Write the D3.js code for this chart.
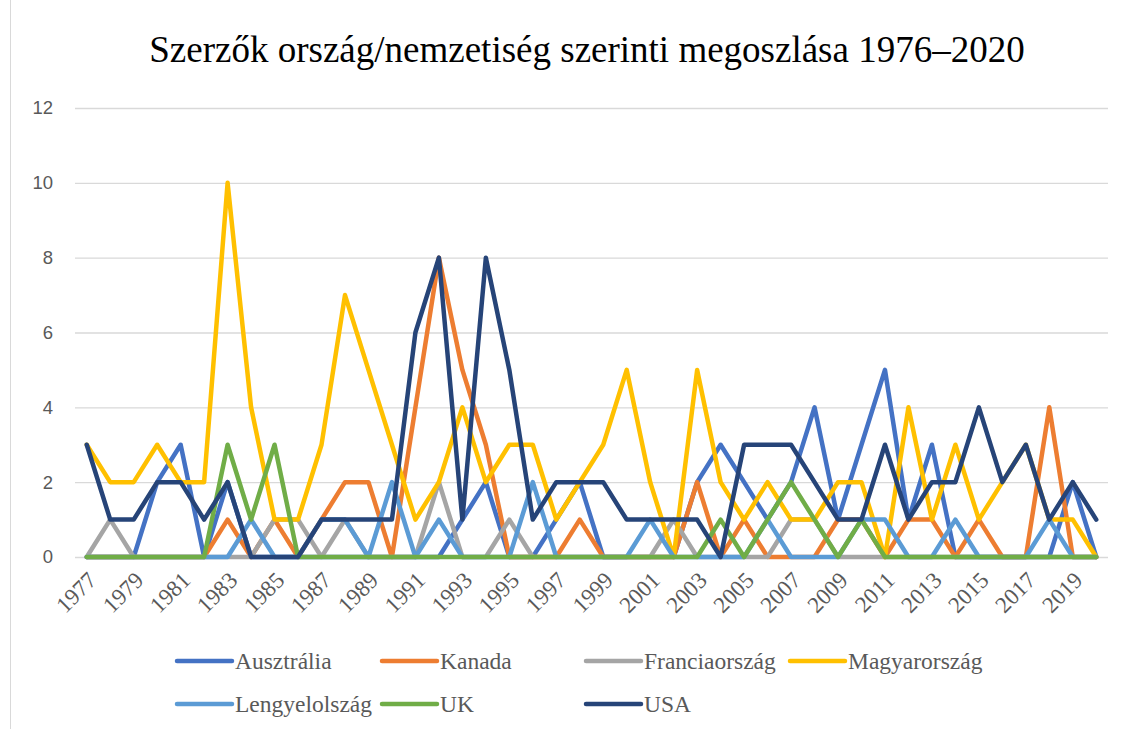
<!DOCTYPE html>
<html>
<head>
<meta charset="utf-8">
<script src="https://cdn.jsdelivr.net/npm/d3@7"></script>
<style>
  body { margin: 0; background: #fff; }
  svg { display: block; }
</style>
</head>
<body>
<div id="chart"></div>
<script>
// years on the category axis
const years = [1977, 1978, 1979, 1980, 1981, 1982, 1983, 1984, 1985, 1986,
  1987, 1988, 1989, 1990, 1991, 1992, 1993, 1994, 1995, 1996,
  1997, 1998, 1999, 2000, 2001, 2002, 2003, 2004, 2005, 2006,
  2007, 2008, 2009, 2010, 2011, 2012, 2013, 2014, 2015, 2016,
  2017, 2018, 2019, 2020];
// only every other year gets a label
const xTickLabels = [1977, 1979, 1981, 1983, 1985, 1987, 1989, 1991, 1993, 1995,
  1997, 1999, 2001, 2003, 2005, 2007, 2009, 2011, 2013, 2015, 2017, 2019];
const yTicks = [0, 2, 4, 6, 8, 10, 12];

const ausztralia = [0,0,0,2,3,0,2,0,0,0, 0,0,0,0,0,0,1,2,0,0, 1,2,0,0,0,0,2,3,2,1, 2,4,1,3,5,1,3,0,0,0, 0,0,2,0];
const kanada = [0,0,0,0,0,0,1,0,1,0, 1,2,2,0,4,8,5,3,0,0, 0,1,0,0,0,0,2,0,1,0, 0,0,1,1,0,1,1,0,1,0, 0,4,0,0];
const franciaorszag = [0,1,0,0,0,0,0,0,1,1, 0,1,0,0,0,2,0,0,1,0, 0,0,0,0,0,1,0,0,0,0, 1,1,0,0,0,0,0,0,0,0, 0,0,0,0];
const magyarorszag = [3,2,2,3,2,2,10,4,1,1, 3,7,5,3,1,2,4,2,3,3, 1,2,3,5,2,0,5,2,1,2, 1,1,2,2,0,4,1,3,1,2, 3,1,1,0];
const lengyelorszag = [0,0,0,0,0,0,0,1,0,0, 1,1,0,2,0,1,0,0,0,2, 0,0,0,0,1,0,0,0,0,1, 0,0,0,1,1,0,0,1,0,0, 0,1,0,0];
const uk = [0,0,0,0,0,0,3,1,3,0, 0,0,0,0,0,0,0,0,0,0, 0,0,0,0,0,0,0,1,0,1, 2,1,0,1,0,0,0,0,0,0, 0,0,0,0];
const usa = [3,1,1,2,2,1,2,0,0,0, 1,1,1,1,6,8,1,8,5,1, 2,2,2,1,1,1,1,0,3,3, 3,2,1,1,3,1,2,2,4,2, 3,1,2,1];

const seriesNames = ['Ausztrália', 'Kanada', 'Franciaország', 'Magyarország', 'Lengyelolszág', 'UK', 'USA'];
const seriesValues = [ausztralia, kanada, franciaorszag, magyarorszag, lengyelorszag, uk, usa];
const seriesColors = ['#4472C4', '#ED7D31', '#A5A5A5', '#FFC000', '#5B9BD5', '#70AD47', '#264478'];

const series = seriesNames.map((name, i) => ({
    name,
    color: seriesColors[i],
    values: seriesValues[i].map((v, j) => ({ year: years[j], value: v }))
}));

const width = 1134, height = 729;
const plot = { left: 75, right: 1108, top: 108, bottom: 557 };

const svg = d3.select('#chart').append('svg')
    .attr('width', width)
    .attr('height', height);

// chart frame (only the left edge falls inside the picture)
svg.append('rect')
    .attr('x', 10.5).attr('y', -5)
    .attr('width', width + 10).attr('height', height + 10)
    .attr('fill', 'none')
    .attr('stroke', '#d9d9d9');

svg.append('text')
    .attr('x', 587).attr('y', 62)
    .attr('text-anchor', 'middle')
    .style('font-family', '"Liberation Serif", "Times New Roman", serif')
    .style('font-size', '37px')
    .attr('fill', '#000')
    .text('Szerzők ország/nemzetiség szerinti megoszlása 1976–2020');

const x = d3.scalePoint()
    .domain(years)
    .range([plot.left, plot.right])
    .padding(0.5);

const y = d3.scaleLinear()
    .domain([0, 12])
    .range([plot.bottom, plot.top]);

// gridlines + y labels
const yAxis = d3.axisLeft(y)
    .tickValues(yTicks)
    .tickSize(-(plot.right - plot.left))
    .tickPadding(22);
const gy = svg.append('g')
    .attr('transform', `translate(${plot.left},0)`)
    .call(yAxis);
gy.select('.domain').remove();
gy.selectAll('.tick line').attr('stroke', '#d9d9d9').attr('stroke-width', 1.3);
gy.selectAll('.tick text')
    .attr('fill', '#595959')
    .style('font-family', '"Liberation Sans", Arial, sans-serif')
    .style('font-size', '18.5px');

// x labels, rotated
const gx = svg.append('g')
    .attr('transform', `translate(0,${plot.bottom})`)
    .call(d3.axisBottom(x).tickValues(xTickLabels).tickSize(0).tickFormat(d3.format('d')));
gx.select('.domain').remove();
gx.selectAll('.tick text')
    .attr('fill', '#595959')
    .style('font-family', '"Liberation Serif", "Times New Roman", serif')
    .style('font-size', '23px')
    .attr('text-anchor', 'end')
    .attr('transform', 'translate(5,19) rotate(-45)')
    .attr('dy', '0.35em')
    .attr('y', 0);

const line = d3.line()
    .x(d => x(d.year))
    .y(d => y(d.value))
    .curve(d3.curveLinear);

svg.append('g')
    .selectAll('path')
    .data(series)
    .join('path')
    .attr('d', d => line(d.values))
    .attr('fill', 'none')
    .attr('stroke', d => d.color)
    .attr('stroke-width', 4.5)
    .attr('stroke-linejoin', 'round')
    .attr('stroke-linecap', 'round');

// legend: two rows, four columns
const legendCols = [177, 382, 586, 790];
const legendRows = [661, 704];
const legend = svg.append('g')
    .selectAll('g')
    .data(series)
    .join('g')
    .attr('transform', (d, i) => `translate(${legendCols[i % 4]},${legendRows[Math.floor(i / 4)]})`);
legend.append('line')
    .attr('x1', 0).attr('x2', 55)
    .attr('stroke', d => d.color)
    .attr('stroke-width', 4.5)
    .attr('stroke-linecap', 'round');
legend.append('text')
    .attr('x', 58)
    .attr('dy', '0.35em')
    .attr('fill', '#595959')
    .style('font-family', '"Liberation Serif", "Times New Roman", serif')
    .style('font-size', '23.5px')
    .text(d => d.name);
</script>
</body>
</html>
